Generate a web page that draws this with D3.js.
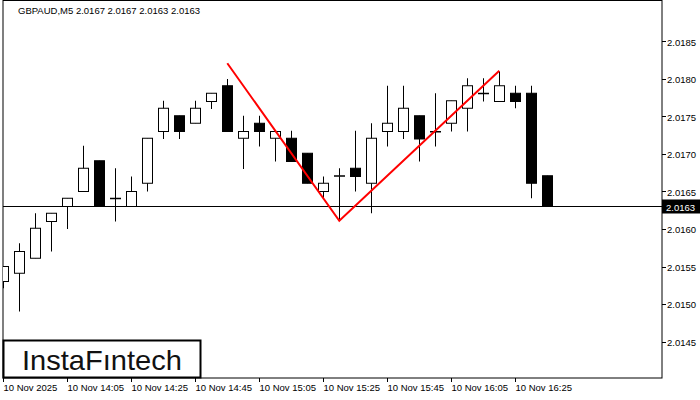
<!DOCTYPE html>
<html>
<head>
<meta charset="utf-8">
<script src="https://cdn.jsdelivr.net/npm/d3@7"></script>
<style>
  body { margin: 0; background: #fff; }
  text { font-family: "Liberation Sans", Arial, sans-serif; }
</style>
</head>
<body>
<div id="chart"></div>
<script>
var opens  = [2.01530, 2.01541, 2.01561, 2.01610, 2.01630, 2.01650, 2.01691, 2.01641, 2.01630, 2.01661,
              2.01730, 2.01751, 2.01741, 2.01770, 2.01791, 2.01721, 2.01741, 2.01721, 2.01721, 2.01701,
              2.01650, 2.01671, 2.01681, 2.01661, 2.01730, 2.01730, 2.01751, 2.01730, 2.01741, 2.01761,
              2.01781, 2.01770, 2.01781, 2.01781, 2.01671];
var highs  = [2.01550, 2.01581, 2.01621, 2.01621, 2.01641, 2.01711, 2.01691, 2.01681, 2.01670, 2.01721,
              2.01771, 2.01751, 2.01771, 2.01781, 2.01800, 2.01751, 2.01751, 2.01730, 2.01731, 2.01701,
              2.01670, 2.01681, 2.01731, 2.01741, 2.01791, 2.01791, 2.01751, 2.01781, 2.01771, 2.01801,
              2.01801, 2.01810, 2.01791, 2.01791, 2.01671];
var lows   = [2.01521, 2.01490, 2.01561, 2.01570, 2.01600, 2.01650, 2.01630, 2.01610, 2.01630, 2.01650,
              2.01720, 2.01720, 2.01741, 2.01760, 2.01730, 2.01680, 2.01710, 2.01690, 2.01690, 2.01661,
              2.01640, 2.01611, 2.01650, 2.01621, 2.01710, 2.01720, 2.01690, 2.01710, 2.01730, 2.01730,
              2.01770, 2.01770, 2.01761, 2.01641, 2.01630];
var closes = [2.01550, 2.01570, 2.01601, 2.01621, 2.01641, 2.01681, 2.01630, 2.01641, 2.01650, 2.01721,
              2.01761, 2.01730, 2.01761, 2.01781, 2.01730, 2.01730, 2.01730, 2.01730, 2.01690, 2.01661,
              2.01661, 2.01671, 2.01670, 2.01721, 2.01741, 2.01761, 2.01720, 2.01730, 2.01771, 2.01791,
              2.01781, 2.01791, 2.01770, 2.01661, 2.01630];
var timeLabels = ["10 Nov 2025", "10 Nov 14:05", "10 Nov 14:25", "10 Nov 14:45", "10 Nov 15:05",
                  "10 Nov 15:25", "10 Nov 15:45", "10 Nov 16:05", "10 Nov 16:25"];
var priceTicks = [2.0145, 2.0150, 2.0155, 2.0160, 2.0165, 2.0170, 2.0175, 2.0180, 2.0185];
var patternIdx = [14, 21, 31];
var patternPrice = [2.01821, 2.01611, 2.01811];
var lastPrice = 2.0163;

var W = 700, H = 400, right = 662, bottom = 378;

var svg = d3.select("#chart").append("svg")
    .attr("width", W).attr("height", H);

var x = d3.scaleLinear().domain([0, 1]).range([3.3, 19.3]);
var y = d3.scaleLinear().domain([2.0180, 2.0145]).range([79, 341.5]);

// frame
svg.append("rect").attr("x", 3).attr("y", 0.5).attr("width", right - 3).attr("height", bottom - 0.5)
    .attr("fill", "none").attr("stroke", "#000");

var plot = svg.append("g");
plot.append("clipPath").attr("id", "clip").append("rect")
    .attr("x", 3).attr("y", 0).attr("width", right - 3).attr("height", bottom);
var g = plot.append("g").attr("clip-path", "url(#clip)");

// price line
g.append("line").attr("x1", 3).attr("x2", right)
    .attr("y1", Math.round(y(lastPrice)) + 0.5).attr("y2", Math.round(y(lastPrice)) + 0.5)
    .attr("stroke", "#000");

var idx = d3.range(opens.length);
var candles = g.selectAll("g.c").data(idx).enter().append("g");
candles.append("line")
    .attr("x1", function (i) { return Math.round(x(i)) + 0.5; })
    .attr("x2", function (i) { return Math.round(x(i)) + 0.5; })
    .attr("y1", function (i) { return y(highs[i]); })
    .attr("y2", function (i) { return y(lows[i]); })
    .attr("stroke", "#000");
candles.append("rect")
    .attr("x", function (i) { return Math.round(x(i)) - 4.5; })
    .attr("width", 10)
    .attr("y", function (i) { return y(Math.max(opens[i], closes[i])); })
    .attr("height", function (i) { return Math.max(0.5, Math.abs(y(opens[i]) - y(closes[i]))); })
    .attr("fill", function (i) { return closes[i] < opens[i] ? "#000" : "#fff"; })
    .attr("stroke", "#000");

// pattern
g.append("path")
    .attr("d", d3.line().x(function (i) { return x(patternIdx[i]); })
        .y(function (i) { return y(patternPrice[i]); })(d3.range(3)))
    .attr("fill", "none").attr("stroke", "#ff0000").attr("stroke-width", 2);

// price axis
priceTicks.forEach(function (p) {
    svg.append("line").attr("x1", right).attr("x2", right + 4)
        .attr("y1", Math.round(y(p)) + 0.5).attr("y2", Math.round(y(p)) + 0.5).attr("stroke", "#000");
    svg.append("text").attr("x", right + 5).attr("y", y(p) + 4)
        .attr("font-size", 9.5).text(p.toFixed(4));
});
svg.append("rect").attr("x", right).attr("y", y(lastPrice) - 7).attr("width", 38).attr("height", 14)
    .attr("fill", "#000");
svg.append("text").attr("x", right + 4).attr("y", y(lastPrice) + 4)
    .attr("font-size", 9.5).attr("fill", "#fff").text(lastPrice.toFixed(4));

// time axis
timeLabels.forEach(function (t, k) {
    var xi = Math.round(x(k * 4)) + 0.5;
    svg.append("line").attr("x1", xi).attr("x2", xi).attr("y1", bottom).attr("y2", bottom + 4).attr("stroke", "#000");
    svg.append("text").attr("x", xi).attr("y", bottom + 13).attr("font-size", 9.5).text(t);
});

// title
svg.append("text").attr("x", 18).attr("y", 14).attr("font-size", 9.5)
    .text("GBPAUD,M5  2.0167 2.0167 2.0163 2.0163");

// logo
svg.append("rect").attr("x", 3.5).attr("y", 340.5).attr("width", 197).attr("height", 37)
    .attr("fill", "#fff").attr("stroke", "#000").attr("stroke-width", 2);
svg.append("text").attr("x", 22).attr("y", 370).attr("font-size", 28).attr("font-weight", 500)
    .attr("fill", "#111").attr("textLength", 160).attr("lengthAdjust", "spacingAndGlyphs")
    .attr("font-family", "Roboto, sans-serif").text("InstaF\u0131ntech");
</script>
</body>
</html>
